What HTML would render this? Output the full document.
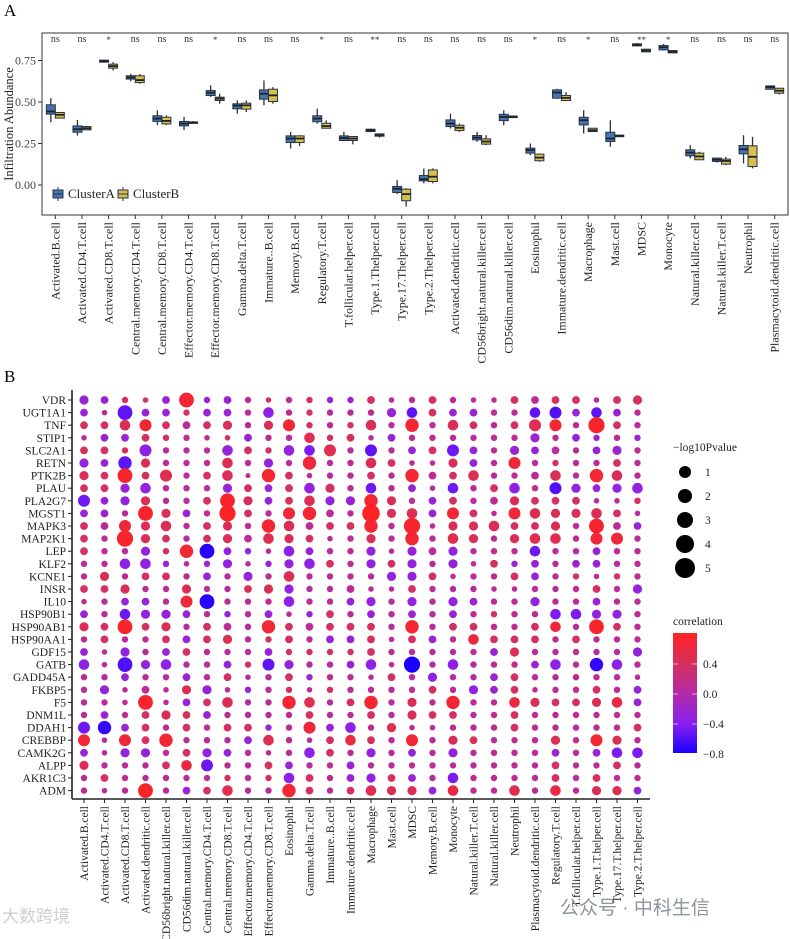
<!DOCTYPE html>
<html><head><meta charset="utf-8"><style>
html,body{margin:0;padding:0;background:#fff;}
svg{display:block;font-family:"Liberation Serif","Noto Serif CJK SC",serif;}
</style></head><body>
<svg id="chart" width="790" height="939" viewBox="0 0 790 939" xmlns="http://www.w3.org/2000/svg">
<text x="4" y="16" font-size="17">A</text>
<text x="4" y="382" font-size="17">B</text>
<g id="panelA"></g>
<g id="panelB"></g>
<text x="560" y="914" font-size="19" fill="#8c959b" font-family="Liberation Sans,'Noto Sans CJK SC',sans-serif">公众号 · 中科生信</text>
<text x="2" y="922" font-size="17" fill="#d0d0d0" font-family="Liberation Sans,'Noto Sans CJK SC',sans-serif">大数跨境</text>
</svg>
<script>
// ---------- Panel A data ----------
const groupsA = ["Activated.B.cell","Activated.CD4.T.cell","Activated.CD8.T.cell","Central.memory.CD4.T.cell","Central.memory.CD8.T.cell","Effector.memory.CD4.T.cell","Effector.memory.CD8.T.cell","Gamma.delta.T.cell","Immature..B.cell","Memory.B.cell","Regulatory.T.cell","T.follicular.helper.cell","Type.1.Thelper.cell","Type.17.Thelper.cell","Type.2.Thelper.cell","Activated.dendritic.cell","CD56bright.natural.killer.cell","CD56dim.natural.killer.cell","Eosinophil","Immature.dendritic.cell","Macrophage","Mast.cell","MDSC","Monocyte","Natural.killer.cell","Natural.killer.T.cell","Neutrophil","Plasmacytoid.dendritic.cell"];
const sigA = ["ns","ns","*","ns","ns","ns","*","ns","ns","ns","*","ns","**","ns","ns","ns","ns","ns","*","ns","*","ns","**","*","ns","ns","ns","ns"];
const aMed = [0.443,0.336,0.745,0.648,0.40,0.37,0.556,0.478,0.55,0.28,0.40,0.283,0.33,-0.023,0.035,0.37,0.285,0.41,0.21,0.557,0.39,0.28,0.845,0.83,0.195,0.152,0.215,0.59];
const aQ1 = [0.427,0.318,0.740,0.638,0.383,0.356,0.539,0.459,0.517,0.256,0.381,0.268,0.322,-0.045,0.025,0.352,0.272,0.388,0.192,0.523,0.362,0.262,0.838,0.814,0.176,0.142,0.188,0.577];
const aQ3 = [0.483,0.356,0.752,0.658,0.417,0.383,0.569,0.489,0.573,0.296,0.417,0.296,0.336,-0.009,0.057,0.392,0.298,0.426,0.222,0.573,0.408,0.318,0.850,0.840,0.212,0.162,0.238,0.597];
const aLo = [0.378,0.298,0.738,0.625,0.36,0.33,0.53,0.43,0.48,0.22,0.37,0.265,0.318,-0.055,0.01,0.34,0.26,0.36,0.18,0.52,0.31,0.23,0.835,0.81,0.16,0.135,0.13,0.575];
const aHi = [0.523,0.392,0.755,0.67,0.45,0.41,0.60,0.51,0.63,0.32,0.46,0.32,0.34,0.03,0.10,0.43,0.32,0.45,0.25,0.58,0.45,0.39,0.855,0.85,0.24,0.165,0.30,0.60];
const bMed = [0.423,0.342,0.716,0.632,0.386,0.377,0.52,0.48,0.54,0.28,0.355,0.28,0.30,-0.055,0.05,0.345,0.262,0.412,0.165,0.525,0.33,0.297,0.81,0.803,0.172,0.145,0.17,0.568];
const bQ1 = [0.403,0.332,0.704,0.617,0.368,0.372,0.509,0.457,0.503,0.256,0.342,0.268,0.294,-0.095,0.021,0.328,0.246,0.41,0.146,0.509,0.322,0.295,0.802,0.796,0.152,0.126,0.111,0.553];
const bQ3 = [0.437,0.352,0.728,0.658,0.408,0.38,0.529,0.493,0.577,0.296,0.372,0.292,0.308,-0.025,0.091,0.36,0.278,0.415,0.186,0.539,0.342,0.30,0.818,0.81,0.192,0.156,0.236,0.583];
const bLo = [0.403,0.33,0.69,0.61,0.36,0.37,0.49,0.44,0.49,0.235,0.34,0.245,0.285,-0.13,0.01,0.32,0.24,0.41,0.14,0.505,0.32,0.295,0.80,0.795,0.15,0.12,0.10,0.545];
const bHi = [0.437,0.355,0.74,0.668,0.42,0.385,0.55,0.51,0.59,0.30,0.39,0.295,0.31,-0.02,0.10,0.37,0.30,0.415,0.19,0.56,0.34,0.30,0.82,0.81,0.20,0.17,0.29,0.585];
const yTicksA = [0.00,0.25,0.50,0.75];

// ---------- Panel B data ----------
const genes = ["VDR","UGT1A1","TNF","STIP1","SLC2A1","RETN","PTK2B","PLAU","PLA2G7","MGST1","MAPK3","MAP2K1","LEP","KLF2","KCNE1","INSR","IL10","HSP90B1","HSP90AB1","HSP90AA1","GDF15","GATB","GADD45A","FKBP5","F5","DNM1L","DDAH1","CREBBP","CAMK2G","ALPP","AKR1C3","ADM"];
const cells = ["Activated.B.cell","Activated.CD4.T.cell","Activated.CD8.T.cell","Activated.dendritic.cell","CD56bright.natural.killer.cell","CD56dim.natural.killer.cell","Central.memory.CD4.T.cell","Central.memory.CD8.T.cell","Effector.memory.CD4.T.cell","Effector.memory.CD8.T.cell","Eosinophil","Gamma.delta.T.cell","Immature..B.cell","Immature.dendritic.cell","Macrophage","Mast.cell","MDSC","Memory.B.cell","Monocyte","Natural.killer.T.cell","Natural.killer.cell","Neutrophil","Plasmacytoid.dendritic.cell","Regulatory.T.cell","T.follicular.helper.cell","Type.1.T.helper.cell","Type.17.T.helper.cell","Type.2.T.helper.cell"];
const corrRows = [
[-.25,-.25,.4,.4,-.25,.7,-.25,-.25,.1,.4,.1,.4,-.25,-.25,.4,.1,.1,.4,.1,.1,.1,.4,.1,.4,.4,.1,.4,.4],
[-.25,.1,-.55,-.25,-.25,.4,-.25,-.25,.1,-.35,.1,.4,.1,.1,.1,-.25,-.55,.4,-.25,-.25,.1,.1,-.55,-.6,-.25,-.55,-.25,.1],
[.4,.4,.45,.7,.4,.1,.4,.4,.1,.45,.7,.4,.1,.4,.45,.1,.7,.1,.45,.4,.1,.4,.5,.7,.1,.75,.4,.1],
[.1,-.25,-.25,.4,.4,.1,.1,.4,-.25,.1,.1,.5,.4,.4,.1,-.25,.1,.1,.1,.1,.1,.1,-.25,.1,-.25,-.2,.1,-.2],
[.4,.4,.4,-.35,.1,.1,.1,-.3,.4,.4,-.3,-.45,.5,.1,-.55,.1,-.25,.4,-.5,-.25,.1,-.25,-.25,.1,.1,-.25,-.25,.1],
[-.3,-.25,-.55,.45,.1,.1,.1,.45,.1,-.3,.1,.65,.1,.1,.45,.4,.1,.1,.45,-.25,.1,.65,.1,.4,.1,.1,.4,.1],
[.45,.4,.75,.4,.5,.1,.4,.45,.1,.7,.4,.1,.1,.1,.4,.1,.7,.1,.4,.45,.1,.1,.1,.45,.1,.7,.45,.1],
[.4,.4,-.25,-.3,.1,.1,.1,-.25,.4,-.25,.4,-.3,.4,.1,-.5,.1,-.25,.1,-.5,.1,.4,-.35,.1,-.6,-.3,-.25,-.3,-.3],
[-.5,-.25,-.3,.45,.1,.1,.4,.75,.4,-.25,.4,.45,-.3,-.3,.7,.45,.1,-.25,.4,.1,.1,.45,.4,.4,.4,.1,.1,.4],
[-.25,-.25,.1,.75,.45,-.25,.1,.8,.4,.1,.65,.7,.1,.1,.8,.45,.45,-.25,.65,.4,.1,.65,.45,.45,.45,.45,.4,.1],
[.4,.1,.65,.45,.45,.1,.4,.45,.1,.7,.45,.1,.4,.4,.7,.1,.75,.1,.45,.45,.45,.4,.4,.45,.1,.75,.1,-.25],
[.4,.1,.75,.45,.4,.1,.4,.45,.1,.5,.45,.4,.1,.1,.45,.1,.7,.1,.5,.45,.1,.45,.5,.5,.1,.65,.65,.1],
[.4,.1,.1,-.3,.4,.7,-.75,-.25,-.25,.1,-.35,-.25,.1,.1,-.3,.1,-.3,.1,-.3,.1,.1,.1,-.5,.1,.1,-.25,.1,.1],
[.1,.1,-.35,-.35,-.25,.1,-.25,-.3,.1,-.25,-.3,-.35,.4,.1,-.3,.4,-.3,.1,-.3,.1,.4,-.25,-.25,.1,-.25,-.25,.1,.1],
[.1,.45,.1,.4,.4,.1,-.25,.1,-.3,.1,.45,.1,.1,.1,.1,-.3,-.3,.4,.1,.1,.1,.4,-.25,.1,.4,.1,.4,.1],
[.4,.4,.45,.1,.1,.45,.1,.1,.4,.45,-.3,.1,.1,.1,.1,.1,.4,.1,.1,.1,.1,.1,.1,.1,.1,.4,.1,-.3],
[.1,.1,-.25,-.25,.1,.65,-.75,.1,.1,.1,-.35,.1,.1,-.25,-.3,.1,-.3,.1,-.3,-.25,.1,.1,-.3,.1,.1,-.25,.1,.1],
[-.25,.1,-.5,-.3,-.3,-.25,.1,-.25,.1,-.25,.1,-.25,.4,.1,-.25,.1,-.25,.1,-.25,.1,.4,.1,.1,-.45,-.45,-.3,-.3,.1],
[.45,.4,.75,.4,.45,.1,.4,.1,.1,.7,.4,.1,.4,.4,.4,.1,.7,.1,.4,.4,.1,.1,.4,.65,.1,.75,.4,.1],
[.1,.4,.1,.1,.4,-.25,.4,.45,.1,.4,.4,.1,-.25,-.25,.4,.1,.4,-.25,.1,.6,.4,.4,.4,.1,.4,.1,.1,.1],
[-.25,.1,-.3,.1,-.25,.4,.1,.1,.1,-.25,.4,.4,.4,.4,.4,.1,.1,.1,.1,.1,-.25,.45,.1,.1,.1,.1,.1,-.3],
[-.35,.1,-.6,-.3,-.35,.1,.1,-.25,.4,-.55,-.3,.1,.1,-.25,-.35,.1,-.8,.1,-.35,.1,.1,.1,-.25,-.35,.1,-.7,-.35,.1],
[.1,.1,-.25,.1,.1,-.25,.1,.4,.1,.1,.4,-.25,.1,.1,.1,.4,.1,-.35,.1,.1,-.25,.4,.1,.1,.1,.1,.1,.1],
[.1,-.3,.1,.1,.1,.45,-.3,.1,-.25,.1,.4,.1,.4,.1,.1,.1,.1,.4,.1,-.35,-.25,.4,.1,.1,.1,.4,.1,-.25],
[.1,.1,.1,.75,.1,-.25,.4,.45,.1,.1,.7,.5,.1,.4,.7,.1,.45,.1,.7,.1,.1,.6,.45,.4,.4,.45,.6,-.25],
[.1,-.25,.1,.4,.45,.4,-.25,.1,.1,.1,.1,.4,.1,.1,.4,.1,.45,.4,.4,.1,.1,.4,.1,.1,.1,.1,.1,.1],
[-.5,-.7,-.25,.4,.1,.4,.1,.4,.4,-.25,.1,.65,-.25,-.35,.1,.45,.1,.1,.1,.1,.1,.4,.1,.1,.1,.1,.1,.4],
[.7,.1,.65,.4,.7,.1,.1,.1,-.25,.5,.1,.1,.4,.6,.4,.1,.7,.1,.45,.4,.1,.1,.1,.45,.1,.7,.45,.1],
[-.25,.1,-.3,-.3,.1,.4,-.3,-.25,.1,.1,.1,-.35,.4,.1,-.3,.1,-.25,.1,-.3,.1,.1,.1,.1,-.25,.1,-.25,-.45,-.45],
[.45,.1,.1,.1,.4,.6,-.5,.1,.1,.4,-.25,.1,.1,-.25,.1,.1,.1,.1,.1,.1,.1,.1,.1,.4,.1,.1,.4,.1],
[.1,.4,.1,.1,.1,.1,.1,.4,.1,.4,-.35,.4,.1,-.25,-.3,.4,-.25,.1,-.45,.1,.1,.1,.1,.4,.1,.4,.1,.1],
[.1,.1,.1,.75,.1,-.25,.4,.5,.1,.1,.7,.4,.1,.4,.5,.45,.45,-.25,.6,.1,.1,.5,.1,.6,.1,.45,.45,-.25]
];
const pRows = [
[2,1.5,1,.7,1.5,4,1,1.5,1,.7,1,1,1,1,1.5,.7,1,1.5,1,.7,.7,1.5,1.5,1.5,1.5,.7,1.5,2],
[1.5,.7,4,1.5,1.5,1,1.5,1.5,1,2.5,1,1,1,1,1,2,2.5,1.5,1.5,1.5,1,1,2.5,3,1.5,2.5,1.5,1],
[1.5,1.5,2.5,3,1.5,1.5,1.5,2,1,2,3,1,1,1,2.5,1,3.5,1,2.5,1.5,1,1.5,3,3,1,4.5,1.5,1],
[.7,1.5,1.5,1.5,1,1,.7,.7,1.5,1,1,2.5,1,1.5,.7,1.5,1,1,1,1,1,1,2,1,1.5,1,1,1],
[1.5,1.5,1,3,1,1,1,2.5,1.5,1,2.5,2.5,3,1,3,1,1.5,1.5,3,1.5,1,2,1.5,1.5,1,1.5,2,1],
[2,1.5,3.5,2,1,1,1,2.5,1,2,1,3.5,1,1,2.5,1.5,.7,.7,2,1.5,1,3,1,1,1,1,1.5,1],
[2,1.5,4,1.5,3,1,1.5,2.5,.5,3.5,1.5,.7,1,1,1.5,1,3.5,1.5,1.5,2.5,1,1,1.5,2.5,1,3.5,2.5,1],
[1.5,1.5,2,2.5,1,1,1,2,1.5,1.5,1.5,2.5,2,1,2.5,1,1.5,.7,2.5,1,1.5,2.5,1,3,2,1.5,2,2.5],
[3,1.5,2,2,1,1,1.5,4,2,1.5,1.5,2.5,2,2,3.5,2,1,1.5,1.5,1,1.5,2,1.5,1.5,1.5,.7,.7,1],
[1.5,1.5,1,4,2,1.5,1,4.5,1.5,1,3,3.5,1.5,1,5,2,2.5,1.5,3,1.5,.7,3,2.5,2,2,2.5,1.5,.7],
[1.5,1.5,3,2,2.5,1,1.5,2,1,3.5,2.5,1.5,1.5,1.5,3.5,1,4.5,.7,2,2,2.5,1.5,1.5,2,1,4,1.5,1.5],
[1.5,1,4.5,2,1.5,1,1.5,2,1.5,2.5,2,1.5,.7,1,2,1,3.5,1,2.5,2,1,2,2.5,2.5,1,3,3,1],
[1.5,1,1,2,1,3.5,4,1.5,1,.7,2.5,1.5,1,1,2,.7,2,1.5,2,1,1,1,2.5,1,1,1.5,1,1],
[1,1,2.5,2.5,1,.7,1,2,.7,1,2,2.5,1.5,1,2,1.5,2,1,2,.7,1.5,1,1.5,1,1.5,1.5,1,1],
[1,2,1,1.5,1.5,1,1.5,1,2,1,2.5,1,1,1,1,2,2,1.5,.7,1,1,1.5,1.5,1,1,.7,1,1],
[1.5,1.5,2,1,1,2,1,1,1.5,2,2,1,1,1.5,.7,.7,1.5,1,1,1,.7,.7,1,1,1,1.5,1,2],
[.7,1,1.5,1.5,1,3,4,1,1,1,2.5,1,1,1.5,2,1,2,1,2,1.5,1,1,2,1,1,1.5,1,1],
[1.5,1,2.5,2,2,1.5,1,1,1,1.5,.7,1,1.5,1,1.5,1,1.5,1,1.5,1,1,1,1,2.5,2.5,2,2,1],
[2,1.5,4,1.5,2,1,1.5,1.5,1,3.5,1.5,1.5,1.5,1.5,1.5,1,3.5,1,1.5,1.5,1,1,1.5,2.5,1,4,1.5,1],
[1,1.5,1,1,1.5,1.5,1.5,2,1,1,1.5,1,1.5,1.5,1.5,.7,1.5,1.5,1,2.5,1.5,1.5,1.5,1,1.5,1,1,1],
[1.5,.7,2,1,1.5,1.5,1,1,1,1.5,1,1,1,1,1.5,1,1,1,1,1,1.5,2,1,1,1,1,1,2],
[2.5,.7,4,2,2.5,1,1,1.5,1,3,2,1,1,1.5,2.5,.7,4.5,1,2.5,1,1,1,1.5,2.5,1,3.5,2.5,1],
[1,1,1.5,1,1,1.5,1,1.5,.7,1,1.5,1,1,1,.7,1.5,1,2,1,1,1.5,1.5,1,1,1,1,1,.7],
[1,2,.7,1.5,.7,2,2,.7,1,1,1,.7,1,1,1,1,1,1.5,1,2,1.5,1.5,.7,1,1,1.5,1,1.5],
[1,1,.7,4,.7,1.5,1.5,2.5,1,1,3.5,2.5,1,1.5,3.5,1,2,1,3.5,1,1,2.5,2,1.5,1.5,2,2.5,1.5],
[1,1.5,1,1.5,2,1.5,1.5,1,1,1,1,1.5,1,1,1.5,1,2,1.5,1.5,1,1,1.5,1,1,1,1,1,1],
[3,3.5,1.5,1.5,1,1.5,1,1.5,1.5,1,1,3,1.5,2.5,1,2,.7,.7,1,1,1,1.5,1,1,1,1,1,1.5],
[3,.7,3,1.5,3.5,1,1,1,1.5,2.5,1,.7,1.5,2.5,1.5,1,3,1,2,1.5,1,1,1,2,1,3,2,1],
[1.5,.7,2,2,1,1.5,2,1.5,1,.7,1,2.5,1.5,1,2,1,1.5,1,2,1,1,1,1,1.5,1,1.5,2.5,2.5],
[2,1,1,1,1.5,2.5,3,1,1,1.5,1.5,1,1,1.5,1,1,1,1,1,1,1,1,1,1.5,1,1,1.5,1],
[1,1.5,1,1,1,1,1,1,1,1,2.5,1.5,1,1.5,2,1.5,1.5,1,2.5,1,1,1,1,1.5,1,1.5,1,1],
[1,.7,1,4,1,1.5,1.5,2.5,1,1,3.5,1.5,1,1.5,2.5,2,2,1.5,2.5,1,1,2.5,1,2.5,1,2,2,1.5]
];
const sizeLegend = [1,2,3,4,5];
const corrTicks = [0.4,0.0,-0.4,-0.8];

const NS = "http://www.w3.org/2000/svg";
function mk(tag, attrs, parent){ const e=document.createElementNS(NS,tag); for(const k in attrs) e.setAttribute(k,attrs[k]); parent.appendChild(e); return e; }

// ---------- Panel A ----------
const gA = document.getElementById('panelA');
const AX0=42, AX1=788, AY0=33, AY1=215;
const yA = v => 185 - v*166;
const bandA = (AX1-AX0)/groupsA.length;
const xA = i => AX0 + bandA*(i+0.5);
const frame = mk('rect',{x:AX0,y:AY0,width:AX1-AX0,height:AY1-AY0,fill:'none',stroke:'#333','stroke-width':1},gA);
 
yTicksA.forEach(t=>{
  const l=mk('line',{x1:AX0-4,x2:AX0,y1:yA(t),y2:yA(t),stroke:'#333'},gA);
   
  const tx=mk('text',{x:AX0-6,y:yA(t)+4,'font-size':12,'text-anchor':'end',fill:'#444'},gA);
   
  tx.textContent=t.toFixed(2);
});
const yt=mk('text',{x:0,y:0,'font-size':12.5,'text-anchor':'middle',transform:'translate(13,124) rotate(-90)',fill:'#222'},gA);
 
yt.textContent='Infiltration Abundance';
function box(cx, lo, q1, med, q3, hi, fill, name){
  const w=9;
  const g=mk('g',{},gA);
   
  mk('line',{x1:cx,x2:cx,y1:yA(hi),y2:yA(lo),stroke:'#2a3240','stroke-width':1.3},g);
  mk('rect',{x:cx-w/2,y:yA(q3),width:w,height:Math.max(1.5,yA(q1)-yA(q3)),fill:fill,stroke:'#2a3240','stroke-width':1},g);
  mk('line',{x1:cx-w/2,x2:cx+w/2,y1:yA(med),y2:yA(med),stroke:'#1c2230','stroke-width':1.8},g);
}
groupsA.forEach((name,i)=>{
  const cx=xA(i);
  box(cx-4.5,aLo[i],aQ1[i],aMed[i],aQ3[i],aHi[i],'#4674b0','box-clustera-'+i);
  box(cx+4.5,bLo[i],bQ1[i],bMed[i],bQ3[i],bHi[i],'#d8c04e','box-clusterb-'+i);
  const s=mk('text',{x:cx,y:sigA[i]==='ns'?42:43,'font-size':sigA[i]==='ns'?10:9,'text-anchor':'middle',fill:'#333'},gA);
   
  s.textContent=sigA[i];
  const tk=mk('line',{x1:cx,x2:cx,y1:AY1,y2:AY1+4,stroke:'#333'},gA);
   
  const lb=mk('text',{x:0,y:0,'font-size':12,'text-anchor':'end',fill:'#222',transform:`translate(${cx+4},222) rotate(-90)`},gA);
   
  lb.textContent=name;
});
// legend A
[['ClusterA','#4674b0',53],['ClusterB','#d8c04e',118]].forEach(([n,c,x])=>{
  const g=mk('g',{},gA);
   
  mk('line',{x1:x+5,x2:x+5,y1:187,y2:201,stroke:'#2a3240'},g);
  mk('rect',{x:x,y:190,width:10,height:8,fill:c,stroke:'#2a3240'},g);
  mk('line',{x1:x,x2:x+10,y1:194,y2:194,stroke:'#2a3240'},g);
  const t=mk('text',{x:x+15,y:198,'font-size':13,fill:'#222'},g); t.textContent=n;
});

// ---------- Panel B ----------
const gB=document.getElementById('panelB');
const BX0=72, BX1=650, BY0=390, BY1=799;
const xB = c => 84 + 20.5*c;
const yB = r => 400 + 12.6*r;
const rad = v => 1.8 + 1.4*v;
const stops=[[-0.8,[26,0,255]],[-0.4,[138,32,240]],[0,[178,42,168]],[0.4,[214,48,94]],[0.82,[255,34,34]]];
function col(v){
  v=Math.max(-0.8,Math.min(0.82,v));
  for(let i=0;i<stops.length-1;i++){
    const [a,ca]=stops[i],[b,cb]=stops[i+1];
    if(v<=b){const t=(v-a)/(b-a); return 'rgb('+ca.map((x,k)=>Math.round(x+(cb[k]-x)*t)).join(',')+')';}
  }
  return 'rgb(255,34,34)';
}
const ax1=mk('line',{x1:BX0,x2:BX0,y1:BY0,y2:BY1,stroke:'#222','stroke-width':1.6},gB);
 
const ax2=mk('line',{x1:BX0,x2:BX1,y1:BY1,y2:BY1,stroke:'#222','stroke-width':1.6},gB);
 
genes.forEach((g,r)=>{
  const t=mk('text',{x:BX0-6,y:yB(r)+4,'font-size':11.5,'text-anchor':'end',fill:'#222'},gB);
   
  t.textContent=g;
  const tk=mk('line',{x1:BX0-4,x2:BX0,y1:yB(r),y2:yB(r),stroke:'#222'},gB);
   
  corrRows[r].forEach((v,c)=>{
    const d=mk('circle',{cx:xB(c),cy:yB(r),r:rad(pRows[r][c]),fill:col(v)},gB);
     
  });
});
cells.forEach((n,c)=>{
  const tk=mk('line',{x1:xB(c),x2:xB(c),y1:BY1,y2:BY1+4,stroke:'#222'},gB);
   
  const t=mk('text',{x:0,y:0,'font-size':11.5,'text-anchor':'end',fill:'#222',transform:`translate(${xB(c)+4},806) rotate(-90)`},gB);
   
  t.textContent=n;
});
// size legend
const st=mk('text',{x:673,y:451,'font-size':11.5,fill:'#222'},gB);
 
st.textContent='\u2212log10Pvalue';
sizeLegend.forEach((v,i)=>{
  const g=mk('g',{},gB);
   
  const cy=472+24*i;
  mk('circle',{cx:685,cy:cy,r:5+v,fill:'#000'},g);
  const t=mk('text',{x:705,y:cy+4,'font-size':11.5,fill:'#222'},g); t.textContent=v;
});
// color legend
const ct=mk('text',{x:673,y:625,'font-size':11.5,fill:'#222'},gB);
 
ct.textContent='correlation';
const defs=mk('defs',{},gB);
const lg=mk('linearGradient',{id:'cg',x1:0,y1:1,x2:0,y2:0},defs);
stops.forEach(([v,c])=>mk('stop',{offset:(v+0.8)/1.62,'stop-color':'rgb('+c.join(',')+')'},lg));
const cbTop=633, cbBot=753;
const cb=mk('rect',{x:673,y:cbTop,width:24,height:cbBot-cbTop,fill:'url(#cg)'},gB);
 
const yC = v => 754 - (v+0.8)*75;
corrTicks.forEach(v=>{
  mk('line',{x1:673,x2:678,y1:yC(v),y2:yC(v),stroke:'#fff','stroke-opacity':0.6},gB);
  mk('line',{x1:692,x2:697,y1:yC(v),y2:yC(v),stroke:'#fff','stroke-opacity':0.6},gB);
  const t=mk('text',{x:703,y:yC(v)+4,'font-size':11.5,fill:'#222'},gB);
   
  t.textContent=(v<0?'\u2212':'')+Math.abs(v).toFixed(1);
});
</script>
</body></html>
